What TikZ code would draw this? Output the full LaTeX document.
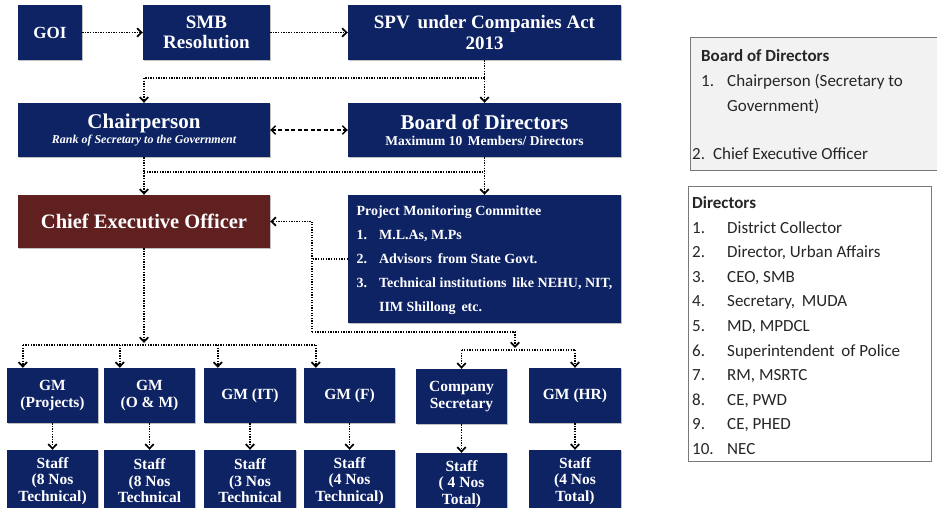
\documentclass[tikz,border=0pt]{standalone}
\usepackage{fontspec}
\setmainfont{Liberation Serif}
\newfontfamily\carl{Carlito}
\usetikzlibrary{arrows.meta,calc,shadows}
\definecolor{navy}{RGB}{14,35,100}
\definecolor{maroon}{RGB}{96,32,32}
\definecolor{panelgray}{RGB}{242,242,242}
\definecolor{rimgray}{RGB}{120,120,120}
\begin{document}
\begin{tikzpicture}[x=1pt,y=-1pt,
  box/.style={fill=navy, text=white, inner sep=0pt, align=center,
    drop shadow={shadow xshift=1pt,shadow yshift=-1pt,fill=black,opacity=0.25},
    font=\bfseries\fontsize{15.5}{16.5}\selectfont},
  big/.style={font=\bfseries\fontsize{19}{20.5}\selectfont},
  dl/.style={line width=1.7pt, dash pattern=on 1.3pt off 1.3pt},
  dsh/.style={line width=1.4pt, dash pattern=on 4pt off 2.5pt},
  tip/.style={-{Straight Barb[length=4.5pt,width=8.5pt]}},
  tips/.style={{Straight Barb[length=4.5pt,width=8.5pt]}-{Straight Barb[length=4.5pt,width=8.5pt]}},
  side/.style={anchor=base west, inner sep=0pt, font=\carl\fontsize{17}{20}\selectfont, text=black!85}
]
\clip (0,0) rectangle (937,507);
\fill[white] (0,0) rectangle (937,507);

% --- top row
\node[box,big,font=\bfseries\fontsize{17}{20}\selectfont,minimum width=64,minimum height=55] (goi) at (50,32.5) {GOI};
\node[box,big,minimum width=127,minimum height=55] (smb) at (206.5,32.5) {SMB\\Resolution};
\node[box,big,minimum width=273,minimum height=55] (spv) at (484.5,32.5) {SPV\, under Companies Act\\2013};

% --- governance row
\node[box,minimum width=252,minimum height=54] (chair) at (144,130)
  {{\fontsize{21}{22}\selectfont Chairperson}\\[-1pt]{\fontsize{12}{13}\selectfont\itshape Rank of Secretary to the Government}};
\node[box,minimum width=273,minimum height=54] (board) at (484.5,130)
  {{\fontsize{21}{22}\selectfont Board of Directors}\\[-1pt]{\fontsize{13.5}{14}\selectfont Maximum 10\, Members/ Directors}};

% --- executive row
\node[box,fill=maroon,minimum width=252,minimum height=53,font=\bfseries\fontsize{20.5}{22}\selectfont] (ceo) at (144,221.5) {Chief Executive Officer};
\node[box,minimum width=273,minimum height=128,font=\bfseries\fontsize{14}{24}\selectfont] (pmc) at (484.5,259)
  {\begin{tabular}{@{}l@{\hspace{12pt}}l@{}}
   \multicolumn{2}{@{}l@{}}{Project Monitoring Committee}\\
   1. & M.L.As, M.Ps\\
   2. & Advisors\, from State Govt.\\
   3. & Technical institutions\, like NEHU, NIT,\\
      & IIM Shillong\, etc.
   \end{tabular}};

% --- general managers
\node[box,minimum width=91,minimum height=55] (gmp) at (52.5,395.5) {GM\\(Projects)};
\node[box,minimum width=91,minimum height=55] (gmo) at (149.5,395.5) {GM\\(O \& M)};
\node[box,minimum width=92,minimum height=55] (gmi) at (250,395.5) {GM (IT)};
\node[box,minimum width=91,minimum height=55] (gmf) at (349.5,395.5) {GM (F)};
\node[box,minimum width=91,minimum height=55] (cs) at (461.5,396.5) {Company\\Secretary};
\node[box,minimum width=92,minimum height=55] (hr) at (575,395.5) {GM (HR)};

% --- staff
\node[box,minimum width=91,minimum height=62] (sp) at (52.5,481) {Staff\\(8 Nos\\Technical)};
\node[box,minimum width=91,minimum height=62] (so) at (149.5,481) {Staff\\(8 Nos\\Technical};
\node[box,minimum width=92,minimum height=62] (si) at (250,481) {Staff\\(3 Nos\\Technical};
\node[box,minimum width=91,minimum height=62] (sf) at (349.5,481) {Staff\\(4 Nos\\Technical)};
\node[box,minimum width=91,minimum height=62] (sc) at (461.5,484) {Staff\\( 4 Nos\\Total)};
\node[box,minimum width=92,minimum height=62] (sh) at (575,481) {Staff\\(4 Nos\\Total)};

% --- junction points
\coordinate (j1) at (484.5,78);
\coordinate (j2) at (0,172);
\coordinate (j3) at (0,345);
\coordinate (pv1) at (312,221.5);
\coordinate (pv2) at (312,332);
\coordinate (pk) at (515,348);
\coordinate (j4) at (0,350);

% --- connectors
\draw[dl,tip] (goi) -- (smb);
\draw[dl,tip] (smb) -- (spv);
\draw[dl,tip] (spv) -- (board);
\draw[dl,tip] (j1) -| (chair.north);
\draw[dsh,tips] (chair) -- (board);
\draw[dl,tip] (chair) -- (ceo);
\draw[dl,tip] (board) -- (pmc);
\draw[dl] (chair.south |- j2) -- (board.south |- j2);
\draw[dl] (pmc.west) -- (pmc.west -| pv1);
\draw[dl,tip] (pv2) -- (pv1) -- (ceo.east);
\draw[dl,tip] (pv2) -| (pk);
\draw[dl] (cs.north |- j4) -- (hr.north |- j4);
\draw[dl,tip] (cs.north |- j4) -- (cs.north);
\draw[dl,tip] (hr.north |- j4) -- (hr.north);
\draw[dl,tip] (ceo.south) -- ($(ceo.south |- j3)+(0,-2)$);
\draw[dl] ([xshift=16pt]gmp.north west |- j3) -- ([xshift=12pt]gmf.north west |- j3);
\draw[dl,tip] ([xshift=16pt]gmp.north west |- j3) -- ([xshift=16pt]gmp.north west);
\draw[dl,tip] ([xshift=16pt]gmo.north west |- j3) -- ([xshift=16pt]gmo.north west);
\draw[dl,tip] ([xshift=14pt]gmi.north west |- j3) -- ([xshift=14pt]gmi.north west);
\draw[dl,tip] ([xshift=12pt]gmf.north west |- j3) -- ([xshift=12pt]gmf.north west);
\foreach \g/\s in {gmp/sp,gmo/so,gmi/si,gmf/sf,cs/sc,hr/sh}
  \draw[dl,tip] (\g) -- (\s);

% --- side panel: board composition
\draw[rimgray,fill=panelgray,line width=0.8pt] (690,37) rectangle (960,170);
\node[side,font=\carl\bfseries\fontsize{17}{20}\selectfont] (b0) at (701,61) {Board of Directors};
\node[side] (b1n) at (701,86) {1.};
\node[side] (b1) at (727,86) {Chairperson (Secretary to};
\node[side] (b1b) at (727,111) {Government)};
\node[side] (b2) at (692,159) {2.\, Chief Executive Officer};

% --- side panel: directors
\draw[rimgray,fill=white,line width=0.8pt] (688,186) rectangle (931,461);
\node[side,font=\carl\bfseries\fontsize{17}{20}\selectfont] (d0) at (692,208.5) {Directors};
\foreach \i/\t [count=\k] in {1/District Collector,2/{Director, Urban Affairs},3/{CEO, SMB},
  4/{Secretary,\, MUDA},5/{MD, MPDCL},6/Superintendent\, of Police,7/{RM, MSRTC},
  8/{CE, PWD},9/{CE, PHED},10/NEC}{
  \node[side] (dn\i) at (692,{208.5+24.6*\k}) {\i.};
  \node[side] (d\i) at (727,{208.5+24.6*\k}) {\t};
}
\end{tikzpicture}
\end{document}
